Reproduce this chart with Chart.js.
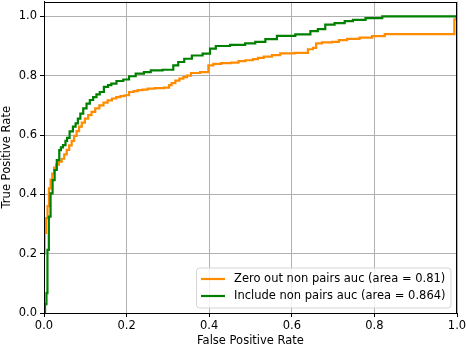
<!DOCTYPE html>
<html>
<head>
<meta charset="utf-8">
<script src="https://cdn.jsdelivr.net/npm/chart.js@4/dist/chart.umd.min.js"></script>
<style>
html,body{margin:0;padding:0;background:#fff;}
#wrap{width:466px;height:348px;position:relative;}
</style>
</head>
<body>
<div id="wrap"><canvas id="c" width="466" height="348"></canvas></div>
<script>
// ---- data ----
const seriesLabels = ['Zero out non pairs auc (area = 0.81)', 'Include non pairs auc (area = 0.864)'];
const xTicks = [0.0, 0.2, 0.4, 0.6, 0.8, 1.0];
const yTicks = [0.0, 0.2, 0.4, 0.6, 0.8, 1.0];

const zeroOutFpr = [0, 0, 0.003, 0.007, 0.010, 0.014, 0.018, 0.022, 0.027, 0.032, 0.040, 0.046, 0.052, 0.058, 0.064, 0.070, 0.076, 0.082, 0.088, 0.095, 0.103, 0.111, 0.119, 0.129, 0.139, 0.149, 0.159, 0.170, 0.180, 0.190, 0.200, 0.212, 0.222, 0.232, 0.245, 0.257, 0.280, 0.301, 0.305, 0.313, 0.323, 0.333, 0.342, 0.350, 0.362, 0.394, 0.402, 0.418, 0.440, 0.467, 0.475, 0.500, 0.512, 0.524, 0.540, 0.564, 0.580, 0.633, 0.645, 0.657, 0.661, 0.685, 0.710, 0.718, 0.750, 0.778, 0.811, 0.839, 0.990, 0.997, 1.0];
const zeroOutTpr = [0, 0.20, 0.27, 0.32, 0.36, 0.42, 0.45, 0.47, 0.49, 0.50, 0.51, 0.52, 0.535, 0.55, 0.565, 0.58, 0.597, 0.613, 0.628, 0.642, 0.655, 0.667, 0.678, 0.69, 0.70, 0.709, 0.717, 0.723, 0.728, 0.731, 0.734, 0.745, 0.748, 0.751, 0.753, 0.756, 0.758, 0.760, 0.768, 0.775, 0.783, 0.79, 0.795, 0.80, 0.809, 0.812, 0.835, 0.84, 0.842, 0.844, 0.849, 0.852, 0.856, 0.86, 0.864, 0.869, 0.875, 0.877, 0.889, 0.894, 0.909, 0.912, 0.914, 0.92, 0.924, 0.928, 0.933, 0.94, 0.94, 0.99, 1.0];

const includeFpr = [0, 0.005, 0.007, 0.0097, 0.0138, 0.018, 0.0235, 0.028, 0.034, 0.040, 0.042, 0.050, 0.054, 0.058, 0.066, 0.074, 0.079, 0.085, 0.091, 0.099, 0.107, 0.115, 0.123, 0.131, 0.139, 0.151, 0.159, 0.167, 0.184, 0.200, 0.212, 0.232, 0.252, 0.265, 0.309, 0.317, 0.333, 0.346, 0.370, 0.398, 0.406, 0.426, 0.475, 0.499, 0.524, 0.548, 0.580, 0.637, 0.653, 0.673, 0.689, 0.718, 0.738, 0.758, 0.799, 0.839, 1.0];
const includeTpr = [0, 0.03, 0.067, 0.213, 0.325, 0.403, 0.448, 0.482, 0.515, 0.549, 0.558, 0.566, 0.58, 0.59, 0.612, 0.628, 0.639, 0.655, 0.672, 0.69, 0.706, 0.718, 0.728, 0.737, 0.745, 0.762, 0.768, 0.773, 0.782, 0.787, 0.798, 0.807, 0.812, 0.818, 0.82, 0.835, 0.846, 0.857, 0.868, 0.874, 0.891, 0.90, 0.904, 0.909, 0.914, 0.923, 0.934, 0.939, 0.95, 0.957, 0.972, 0.977, 0.984, 0.988, 0.994, 1.0, 1.0];

const seriesColors = ['#ff8c00', '#008000'];

const toPts = (xs, ys) => xs.map((x, i) => ({x: x, y: ys[i]}));

const FONT = 'DejaVu Sans';
const FS = 11.5;

const frame = {
  id: 'frame',
  afterDatasetsDraw(chart) {
    const {ctx, chartArea: a} = chart;
    ctx.save();
    ctx.strokeStyle = '#000';
    ctx.lineWidth = 1;
    ctx.strokeRect(Math.round(a.left) + 0.5, Math.round(a.top) + 0.5,
                   Math.round(a.right - a.left) - 1, Math.round(a.bottom - a.top) - 1);
    // legend
    const right = a.right - 6, bottom = a.bottom - 5;
    const w = 254.5, h = 40;
    const l = right - w, t = bottom - h;
    ctx.beginPath();
    const r = 3;
    ctx.moveTo(l + r, t);
    ctx.arcTo(l + w, t, l + w, t + h, r);
    ctx.arcTo(l + w, t + h, l, t + h, r);
    ctx.arcTo(l, t + h, l, t, r);
    ctx.arcTo(l, t, l + w, t, r);
    ctx.closePath();
    ctx.fillStyle = 'rgba(255,255,255,0.8)';
    ctx.fill();
    ctx.strokeStyle = '#d6d6d6';
    ctx.stroke();
    ctx.font = FS + 'px "' + FONT + '"';
    ctx.textBaseline = 'middle';
    ctx.fillStyle = '#000';
    seriesLabels.forEach((lab, i) => {
      const y = t + 11 + i * 17;
      ctx.strokeStyle = seriesColors[i];
      ctx.lineWidth = 2.2;
      ctx.beginPath();
      ctx.moveTo(l + 4.5, y);
      ctx.lineTo(l + 28.5, y);
      ctx.stroke();
      ctx.fillText(lab, l + 37.5, y);
    });
    ctx.restore();
  }
};

new Chart(document.getElementById('c'), {
  type: 'line',
  data: {
    datasets: [
      {label: seriesLabels[0], data: toPts(zeroOutFpr, zeroOutTpr), borderColor: seriesColors[0], borderWidth: 2.2, pointRadius: 0, stepped: 'middle', fill: false, order: 1},
      {label: seriesLabels[1], data: toPts(includeFpr, includeTpr), borderColor: seriesColors[1], borderWidth: 2.2, pointRadius: 0, stepped: 'middle', fill: false, order: 0}
    ]
  },
  options: {
    responsive: false,
    animation: false,
    devicePixelRatio: 1,
    layout: {padding: {top: 1.5, right: 9, left: 0, bottom: 0}},
    plugins: {legend: {display: false}, tooltip: {enabled: false}},
    scales: {
      x: {
        type: 'linear', min: 0, max: 1,
        afterBuildTicks: s => { s.ticks = xTicks.map(v => ({value: v})); },
        afterFit: s => { s.height = 35; s.paddingLeft = 0; s.paddingRight = 0; },
        grid: {color: '#b0b0b0', lineWidth: 1, drawTicks: true, tickLength: 4, tickColor: '#000'},
        border: {display: true, color: '#000', width: 1},
        ticks: {font: {family: FONT, size: FS}, color: '#000', padding: 2, maxRotation: 0,
                callback: v => Number(v).toFixed(1)},
        title: {display: true, text: 'False Positive Rate', font: {family: FONT, size: FS}, color: '#000', padding: {top: 1, bottom: 0}}
      },
      y: {
        type: 'linear', min: 0, max: 1.05,
        afterBuildTicks: s => { s.ticks = yTicks.map(v => ({value: v})); },
        afterFit: s => { s.width = 44; s.paddingTop = 0; s.paddingBottom = 0; },
        grid: {color: '#b0b0b0', lineWidth: 1, drawTicks: true, tickLength: 4, tickColor: '#000'},
        border: {display: true, color: '#000', width: 1},
        ticks: {font: {family: FONT, size: FS}, color: '#000', padding: 3,
                callback: v => Number(v).toFixed(1)},
        title: {display: true, text: 'True Positive Rate', font: {family: FONT, size: FS}, color: '#000', padding: {top: 0, bottom: 2}}
      }
    }
  },
  plugins: [frame]
});
</script>
</body>
</html>
